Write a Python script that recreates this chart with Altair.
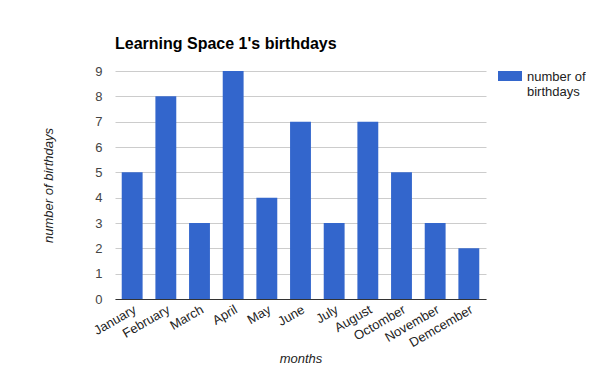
import altair as alt
import pandas as pd

months = ["January", "February", "March", "April", "May", "June", "July",
          "August", "Octomber", "November", "Demcember"]
birthdays = [5, 8, 3, 9, 4, 7, 3, 7, 5, 3, 2]
series_name = "number of birthdays"

df = pd.DataFrame({"month": months, "count": birthdays, "series": [series_name] * len(months)})

FONT = "Arial"

chart = alt.Chart(df).mark_bar(color="#3366cc").encode(
    x=alt.X("month:N", sort=months,
            scale=alt.Scale(paddingInner=0.38, paddingOuter=0.2),
            axis=alt.Axis(title="months", labelAngle=-30, labelAlign="right",
                          labelBaseline="top", labelPadding=4, ticks=False,
                          domainColor="#333333", labelColor="#222222",
                          labelFontSize=13, titleFontSize=13, titleFontStyle="italic",
                          titleFontWeight="normal", titleColor="#222222", titlePadding=3,
                          labelFont=FONT, titleFont=FONT)),
    y=alt.Y("count:Q", scale=alt.Scale(domain=[0, 9], nice=False),
            axis=alt.Axis(title="number of birthdays", values=list(range(10)),
                          ticks=False, domain=False, gridColor="#cccccc",
                          labelColor="#444444", labelFontSize=13, labelPadding=13,
                          titleFontSize=13, titleFontStyle="italic", titleFontWeight="normal",
                          titleColor="#222222", titlePadding=39,
                          labelFont=FONT, titleFont=FONT)),
    color=alt.Color("series:N", scale=alt.Scale(range=["#3366cc"]),
                    legend=alt.Legend(title=None, orient="none", legendX=385, legendY=-10,
                                      symbolType="M-1.2,0.0H1.2V1.0H-1.2Z",
                                      symbolSize=400, symbolStrokeWidth=0,
                                      symbolOpacity=1,
                                      labelExpr="['number of', 'birthdays']",
                                      labelFontSize=13, labelColor="#222222",
                                      labelFont=FONT, labelBaseline="top",
                                      labelOffset=7, padding=0)),
).properties(
    width=371,
    height=228,
    title=alt.Title("Learning Space 1's birthdays", anchor="start", frame="group",
                    fontSize=16, fontWeight="bold", font=FONT, color="#000000", offset=9),
    autosize=alt.AutoSizeParams(type="none"),
    padding={"left": 107, "top": 63, "right": 100, "bottom": 64},
).configure_view(stroke=None)

chart.save("out.html", embed_options={"renderer": "svg", "actions": False})
